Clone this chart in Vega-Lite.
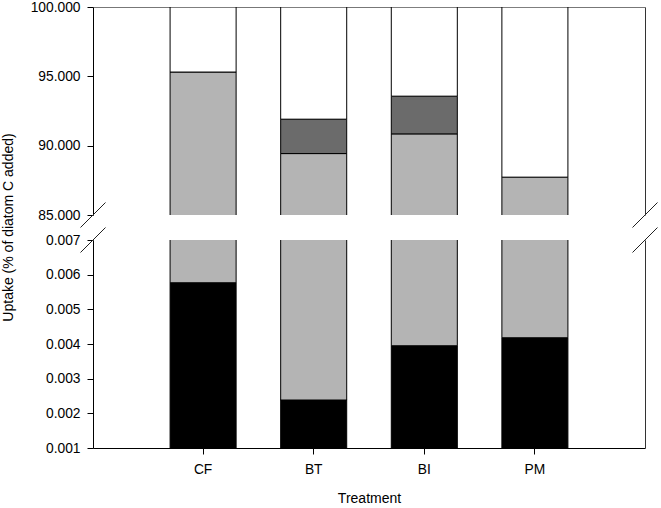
{
  "$schema": "https://vega.github.io/schema/vega-lite/v6.json",
  "padding": {"left": 1, "top": 0, "right": 2, "bottom": 0},
  "bounds": "flush",
  "spacing": 25,
  "config": {
    "view": {"stroke": null},
    "font": "Liberation Sans",
    "axis": {
      "labelFont": "Liberation Sans",
      "titleFont": "Liberation Sans",
      "labelFontSize": 13.8,
      "titleFontSize": 14,
      "labelColor": "#000",
      "titleColor": "#000",
      "titleFontWeight": "normal",
      "grid": false,
      "domainColor": "#000",
      "tickColor": "#000"
    }
  },
  "datasets": {
    "segments": [
      {"treatment": "CF", "fraction": "Component 1", "lower": 0, "upper": 0.00577},
      {"treatment": "CF", "fraction": "Component 2", "lower": 0.00577, "upper": 95.31},
      {"treatment": "CF", "fraction": "Component 4", "lower": 95.31, "upper": 100},
      {"treatment": "BT", "fraction": "Component 1", "lower": 0, "upper": 0.00239},
      {"treatment": "BT", "fraction": "Component 2", "lower": 0.00239, "upper": 89.43},
      {"treatment": "BT", "fraction": "Component 3", "lower": 89.43, "upper": 91.91},
      {"treatment": "BT", "fraction": "Component 4", "lower": 91.91, "upper": 100},
      {"treatment": "BI", "fraction": "Component 1", "lower": 0, "upper": 0.00395},
      {"treatment": "BI", "fraction": "Component 2", "lower": 0.00395, "upper": 90.85},
      {"treatment": "BI", "fraction": "Component 3", "lower": 90.85, "upper": 93.57},
      {"treatment": "BI", "fraction": "Component 4", "lower": 93.57, "upper": 100},
      {"treatment": "PM", "fraction": "Component 1", "lower": 0, "upper": 0.00418},
      {"treatment": "PM", "fraction": "Component 2", "lower": 0.00418, "upper": 87.73},
      {"treatment": "PM", "fraction": "Component 4", "lower": 87.73, "upper": 100}
    ],
    "edges": [{"edge": 0}, {"edge": 1}]
  },
  "vconcat": [
    {
      "width": 552,
      "height": 208,
      "layer": [
        {
          "data": {"name": "segments"},
          "mark": {"type": "bar", "clip": true, "stroke": "#000", "strokeWidth": 1},
          "encoding": {
            "x": {
              "field": "treatment", "type": "nominal", "sort": ["CF", "BT", "BI", "PM"],
              "scale": {"paddingInner": 0.403, "paddingOuter": 0.697},
              "axis": {"orient": "top", "labels": false, "ticks": false, "title": null, "domainColor": "#777"}
            },
            "y": {
              "field": "lower", "type": "quantitative",
              "scale": {"domain": [85, 100], "nice": false, "zero": false},
              "axis": {"values": [85, 90, 95, 100], "format": ".3f", "tickSize": 6, "labelPadding": 7,
                       "title": "Uptake (% of diatom C added)", "titleY": 220, "titlePadding": 15}
            },
            "y2": {"field": "upper"},
            "color": {
              "field": "fraction", "type": "nominal",
              "scale": {"domain": ["Component 1", "Component 2", "Component 3", "Component 4"],
                        "range": ["#000000", "#b4b4b4", "#6b6b6b", "#ffffff"]},
              "legend": null
            }
          }
        },
        {
          "data": {"name": "edges"},
          "mark": {"type": "point", "shape": "M-1,1L1,-1", "size": 625, "filled": false, "color": "#222", "strokeWidth": 1, "opacity": 1},
          "encoding": {
            "x": {"field": "edge", "type": "quantitative", "scale": {"domain": [0, 1], "nice": false, "zero": false, "padding": 0}, "axis": null},
            "y": {"datum": 85, "type": "quantitative", "scale": {"domain": [85, 100], "nice": false, "zero": false},
                  "axis": {"orient": "right", "labels": false, "ticks": false, "title": null, "domainColor": "#333"}}
          }
        }
      ],
      "resolve": {"scale": {"x": "independent", "y": "independent"}}
    },
    {
      "width": 552,
      "height": 208,
      "layer": [
        {
          "data": {"name": "segments"},
          "mark": {"type": "bar", "clip": true, "stroke": "#000", "strokeWidth": 1},
          "encoding": {
            "x": {
              "field": "treatment", "type": "nominal", "sort": ["CF", "BT", "BI", "PM"],
              "scale": {"paddingInner": 0.403, "paddingOuter": 0.697},
              "axis": {"orient": "bottom", "labelAngle": 0, "tickSize": 6, "labelPadding": 8, "title": "Treatment", "titlePadding": 16}
            },
            "y": {
              "field": "lower", "type": "quantitative",
              "scale": {"domain": [0.001, 0.007], "nice": false, "zero": false},
              "axis": {"values": [0.001, 0.002, 0.003, 0.004, 0.005, 0.006, 0.007], "format": ".3f", "tickSize": 6, "labelPadding": 7, "title": null}
            },
            "y2": {"field": "upper"},
            "color": {
              "field": "fraction", "type": "nominal",
              "scale": {"domain": ["Component 1", "Component 2", "Component 3", "Component 4"],
                        "range": ["#000000", "#b4b4b4", "#6b6b6b", "#ffffff"]},
              "legend": null
            }
          }
        },
        {
          "data": {"name": "edges"},
          "mark": {"type": "point", "shape": "M-1,1L1,-1", "size": 625, "filled": false, "color": "#222", "strokeWidth": 1, "opacity": 1},
          "encoding": {
            "x": {"field": "edge", "type": "quantitative", "scale": {"domain": [0, 1], "nice": false, "zero": false, "padding": 0}, "axis": null},
            "y": {"datum": 0.007, "type": "quantitative", "scale": {"domain": [0.001, 0.007], "nice": false, "zero": false},
                  "axis": {"orient": "right", "labels": false, "ticks": false, "title": null, "domainColor": "#333"}}
          }
        }
      ],
      "resolve": {"scale": {"x": "independent", "y": "independent"}}
    }
  ]
}
